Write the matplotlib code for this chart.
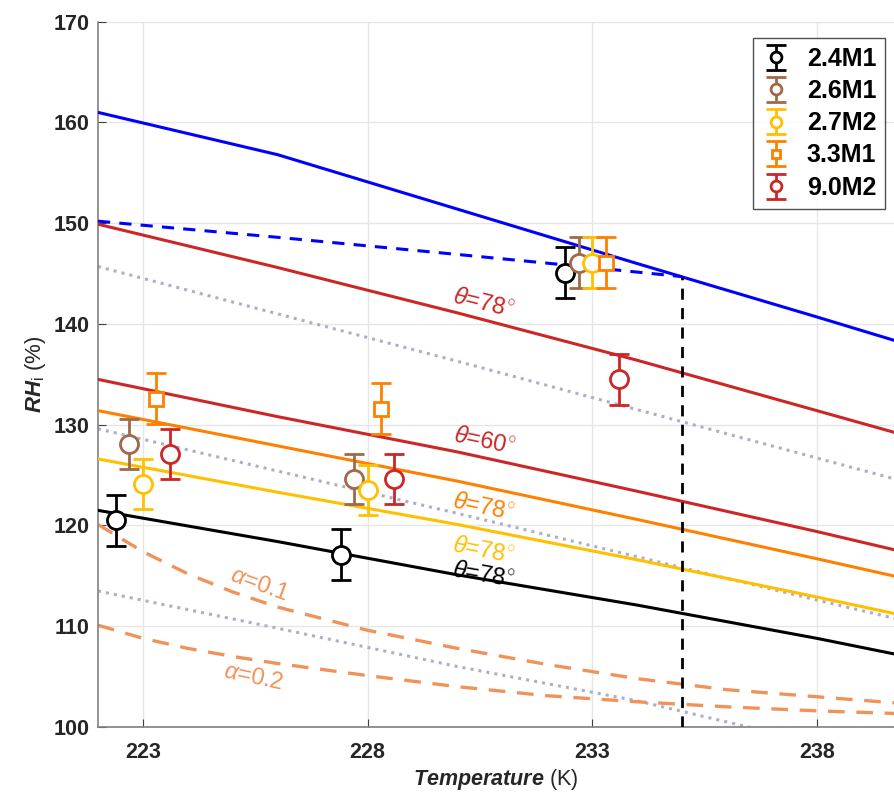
import numpy as np
import matplotlib
matplotlib.use('Agg')
import matplotlib.pyplot as plt

plt.rcParams['font.family'] = ['Liberation Sans', 'DejaVu Sans']
plt.rcParams['mathtext.fontset'] = 'custom'
plt.rcParams['mathtext.rm'] = 'Liberation Sans'
plt.rcParams['mathtext.it'] = 'Liberation Sans:italic'
plt.rcParams['mathtext.bf'] = 'Liberation Sans:bold'
plt.rcParams['mathtext.bfit'] = 'Liberation Sans:italic:bold'

# model curves (temperature in K, RHi in %)
T_line = [222, 226, 230, 234, 238, 240]
blue_solid = [161.0, 156.8, 151.4, 146.0, 140.7, 138.0]
red_78 = [149.9, 145.6, 141.1, 136.4, 131.4, 128.9]
red_60 = [134.5, 130.8, 127.3, 123.4, 119.4, 117.3]
orange_78 = [131.4, 127.9, 124.4, 120.6, 116.7, 114.7]
yellow_78 = [126.6, 123.3, 120.1, 116.6, 112.9, 111.0]
black_78 = [121.5, 118.4, 115.1, 112.1, 108.8, 107.0]
gray_1 = [145.7, 141.0, 136.3, 131.5, 126.7, 124.3]
gray_2 = [129.6, 125.4, 121.2, 116.9, 112.6, 110.5]
gray_3 = [113.5, 109.8, 106.0, 102.6, 98.4, 96.2]

T_blue_dash = [222, 226, 230, 233, 235]
blue_dash = [150.2, 148.6, 146.9, 145.6, 144.7]

T_alpha = [222, 223, 224, 225, 226, 228, 230, 232, 234, 236, 238, 240]
alpha_01 = [120.1, 117.4, 115.2, 113.4, 111.9, 109.6, 107.8, 106.2, 104.8, 103.7, 103.0, 102.3]
alpha_02 = [110.1, 108.8, 107.8, 107.0, 106.3, 105.1, 104.0, 103.1, 102.5, 102.0, 101.6, 101.3]

T_onset = 235
RH_onset = 144.7

# measurements
names = ['2.4M1', '2.6M1', '2.7M2', '3.3M1', '9.0M2']
T_meas = [[222.4, 227.4, 232.4],
          [222.7, 227.7, 232.7],
          [223.0, 228.0, 233.0],
          [223.3, 228.3, 233.3],
          [223.6, 228.6, 233.6]]
RH_meas = [[120.5, 117.1, 145.1],
           [128.1, 124.6, 146.1],
           [124.1, 123.5, 146.1],
           [132.6, 131.6, 146.1],
           [127.1, 124.6, 134.5]]
RH_err = 2.5
colors = ['black', '#a0694a', '#ffc000', '#ff8000', '#cc2626']
markers = ['o', 'o', 'o', 's', 'o']

fig = plt.figure(figsize=(8.94, 7.92), dpi=100)
ax = fig.add_axes([0.1096, 0.0821, 0.8904, 0.8905])

gray = '#aeaecb'
salmon = '#f0935a'
for g in [gray_1, gray_2, gray_3]:
    ax.plot(T_line, g, ':', color=gray, lw=2.2, zorder=2)
ax.plot(T_alpha, alpha_01, '--', color=salmon, lw=2.4, dashes=(5, 3.5), zorder=2)
ax.plot(T_alpha, alpha_02, '--', color=salmon, lw=2.4, dashes=(5, 3.5), zorder=2)
ax.plot(T_line, blue_solid, color='#0000ff', lw=2.2, zorder=3)
ax.plot(T_blue_dash, blue_dash, '--', color='#0000ff', lw=2.2, dashes=(4, 3), zorder=3)
ax.plot(T_line, red_78, color='#cc2626', lw=2.2, zorder=3)
ax.plot(T_line, red_60, color='#cc2626', lw=2.2, zorder=3)
ax.plot(T_line, orange_78, color='#ff8000', lw=2.2, zorder=3)
ax.plot(T_line, yellow_78, color='#ffc000', lw=2.2, zorder=3)
ax.plot(T_line, black_78, color='black', lw=2.2, zorder=3)
ax.plot([T_onset, T_onset], [100, RH_onset], '--', color='black', lw=2, dashes=(4, 3), zorder=3)

handles = []
for i in range(5):
    h = ax.errorbar(T_meas[i], RH_meas[i], yerr=RH_err, fmt=markers[i], color=colors[i],
                    mfc='white', mec=colors[i], ms=13 if markers[i] == 'o' else 10.5,
                    mew=2, elinewidth=2, capsize=7, capthick=2, zorder=5, label=names[i])
    handles.append(h)

# curve labels
lab = dict(fontsize=17, ha='center', va='center', zorder=6)
ax.text(230.57, 142.0, r'$\theta$=78$^{\circ}$', color='#cc2626', rotation=-14, **lab)
ax.text(230.6, 128.3, r'$\theta$=60$^{\circ}$', color='#cc2626', rotation=-12, **lab)
ax.text(230.57, 121.8, r'$\theta$=78$^{\circ}$', color='#ff8000', rotation=-12, **lab)
ax.text(230.57, 117.5, r'$\theta$=78$^{\circ}$', color='#ffc000', rotation=-11, **lab)
ax.text(230.57, 115.0, r'$\theta$=78$^{\circ}$', color='black', rotation=-10, **lab)
ax.text(225.6, 114.1, r'$\alpha$=0.1', color=salmon, rotation=-20, **lab)
ax.text(225.45, 104.9, r'$\alpha$=0.2', color=salmon, rotation=-12, **lab)

ax.set_xlim(222, 239.72)
ax.set_ylim(100, 170)
ax.set_xticks([223, 228, 233, 238])
ax.set_yticks(range(100, 171, 10))
ax.grid(True, color='#e6e6e6', lw=1, zorder=0)
ax.set_axisbelow(True)
for s in ['top', 'right']:
    ax.spines[s].set_visible(False)
for s in ['left', 'bottom']:
    ax.spines[s].set_color('#808080')
    ax.spines[s].set_linewidth(1.2)
ax.tick_params(direction='in', length=6, color='#404040', labelsize=15.5, labelcolor='#262626')
ax.tick_params(axis='x', pad=11)
ax.tick_params(axis='y', pad=6)
for t in ax.get_xticklabels() + ax.get_yticklabels():
    t.set_fontweight('bold')

ax.set_xlabel(r'$\mathbfit{Temperature}$ (K)', fontsize=15.5, color='#262626', labelpad=3)
ax.set_ylabel(r'$\mathbfit{RH}_{\mathrm{i}}$ (%)', fontsize=16, color='#262626')

leg = fig.legend(handles=handles, loc='upper right', bbox_to_anchor=(885 / 894, 1 - 38 / 792),
                 prop={'weight': 'bold', 'size': 18}, frameon=True, fancybox=False,
                 edgecolor='#262626', handlelength=1.1, labelspacing=0.33, borderpad=0.35,
                 markerscale=0.6, handletextpad=0.7, borderaxespad=0)
leg.get_frame().set_linewidth(1)

fig.savefig('out.png', dpi=100)
